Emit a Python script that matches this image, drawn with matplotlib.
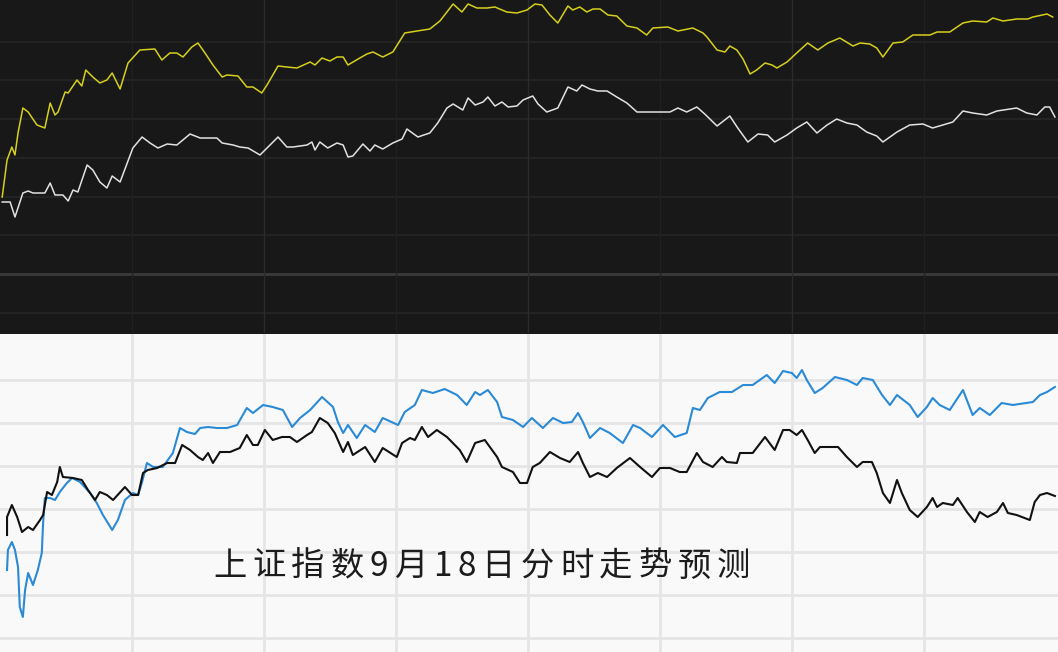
import matplotlib
matplotlib.use('Agg')
import matplotlib.pyplot as plt
import numpy as np

plt.rcParams['font.family'] = ['Noto Sans CJK SC', 'DejaVu Sans']

# 上半部分: 实际分时走势 (分钟, 相对昨收的点数)
yellow_t = [0.5, 1.6, 2.7, 3.4, 4.1, 5.2, 6.4, 8.4, 10.2, 11.4, 12.5, 13.2, 14.8, 15.5, 17.5, 18.6, 19.5,
            21.1, 22.7, 24.3, 25.5, 27.3, 29.1, 31.8, 35.2, 36.8, 38.6, 40.2, 41.6, 43.6, 45.0, 46.6,
            48.4, 50.5, 51.6, 54.1, 56.1, 57.5, 59.5, 60.7, 63.2, 65.2, 67.5, 70.5, 71.6, 73.2, 75.0,
            76.6, 78.0, 79.1, 81.8, 83.4, 84.8, 87.0, 89.3, 92.0, 94.8, 97.7, 100.0, 103.0, 105.0,
            106.4, 108.4, 110.7, 112.5, 115.2, 117.5, 119.8, 121.6, 123.2, 125.0, 126.8, 129.1,
            130.2, 131.8, 133.4, 134.8, 136.4, 138.2, 140.2, 142.5, 144.8, 147.0, 148.4, 151.8,
            154.1, 157.5, 159.8, 160.7, 163.0, 164.8, 165.9, 167.5, 168.9, 170.5, 172.0, 173.9,
            175.5, 176.6, 178.9, 181.1, 183.6, 185.9, 188.2, 190.9, 193.9, 195.5, 197.7, 199.3,
            200.7, 203.0, 205.2, 207.5, 211.4, 213.0, 215.9, 218.9, 221.1, 224.3, 225.7, 228.0,
            231.1, 233.6, 234.8, 238.0, 239.3]
yellow_v = [77, 114, 127, 119, 141, 166, 162, 149, 146, 171, 159, 162, 182, 181, 194, 188, 204,
            197, 191, 194, 201, 185, 211, 224, 225, 214, 221, 221, 217, 227, 231, 221,
            209, 197, 199, 198, 187, 187, 181, 189, 208, 207, 206, 212, 209, 216, 213,
            217, 217, 209, 216, 220, 222, 217, 222, 241, 243, 245, 253, 270, 262,
            270, 266, 266, 267, 262, 261, 264, 270, 269, 259, 251, 268,
            264, 267, 262, 265, 265, 259, 258, 248, 246, 239, 246, 247,
            243, 246, 241, 237, 224, 222, 228, 224, 215, 200, 204, 211,
            209, 206, 212, 221, 231, 224, 231, 236, 228, 231, 230, 226,
            217, 231, 232, 239, 239, 242, 242, 251, 253, 252, 256, 253,
            255, 255, 257, 260, 257]

white_t = [0.5, 2.3, 3.4, 5.2, 6.4, 7.5, 10.2, 11.4, 12.5, 14.3, 15.5, 16.6, 17.7, 19.8, 21.1, 22.7,
           24.3, 25.5, 27.3, 30.2, 32.3, 34.1, 35.9, 38.0, 40.2, 43.2, 45.5, 49.3, 50.5, 53.0, 54.5,
           56.4, 59.1, 60.7, 63.2, 65.2, 66.6, 69.8, 70.9, 71.6, 72.7, 74.5, 76.6, 78.0, 79.1, 80.2,
           82.5, 84.1, 85.2, 87.0, 89.3, 91.4, 92.5, 95.0, 97.7, 99.5, 101.6, 103.0, 105.2, 106.4,
           108.0, 109.8, 110.9, 112.5, 114.1, 115.5, 117.5, 118.9, 121.1, 122.3, 124.3, 126.8,
           129.1, 131.1, 132.3, 134.1, 135.9, 138.0, 140.2, 142.5, 144.8, 147.0, 150.0, 152.3,
           154.1, 156.1, 158.4, 160.2, 163.0, 165.9, 167.7, 170.0, 172.3, 174.5, 176.1, 178.9,
           181.1, 183.4, 185.7, 188.0, 190.2, 192.5, 194.8, 197.0, 199.3, 200.7, 203.9, 206.8,
           209.8, 212.0, 214.3, 216.6, 218.9, 221.1, 224.3, 226.6, 231.1, 233.4, 235.7, 237.5,
           238.6, 239.8]
white_v = [72, 72, 57, 81, 83, 81, 81, 91, 79, 79, 73, 84, 82, 109, 104, 92,
           86, 98, 92, 126, 137, 131, 126, 130, 129, 140, 136, 136, 131, 129, 127,
           126, 119, 126, 137, 127, 127, 129, 132, 124, 132, 126, 131, 129, 117, 118,
           130, 123, 129, 125, 131, 135, 145, 137, 141, 151, 166, 170, 164, 176,
           169, 172, 177, 168, 172, 167, 168, 174, 178, 170, 162, 166,
           187, 183, 189, 185, 183, 183, 177, 171, 162, 162, 162, 162,
           166, 162, 167, 160, 148, 158, 146, 132, 140, 139, 132, 139,
           146, 152, 141, 149, 155, 151, 149, 142, 138, 132, 142, 149,
           150, 146, 149, 152, 163, 161, 159, 163, 166, 161, 159, 167,
           167, 157]

# 下半部分: 预测走势
blue_t = [1.6, 1.8, 2.7, 3.4, 4.1, 4.5, 5.2, 5.7, 6.4, 7.5, 8.6, 9.5, 9.8, 10.2, 11.4, 12.5, 13.6,
          15.2, 16.4, 18.2, 20.5, 22.0, 23.4, 25.5, 26.8, 28.4, 30.2, 31.4, 32.3, 33.4, 34.8, 37.0,
          39.3, 40.9, 42.5, 44.3, 45.5, 47.3, 49.3, 51.6, 53.9, 56.1, 57.5, 59.8, 62.0, 64.3, 66.4,
          68.2, 70.5, 73.2, 75.7, 76.8, 78.0, 79.1, 81.1, 83.0, 85.2, 87.0, 90.5, 92.0, 94.3, 95.9,
          98.4, 101.1, 103.9, 106.1, 108.0, 109.1, 110.9, 113.0, 114.1, 116.6, 118.9, 120.9, 123.4,
          125.7, 128.0, 130.0, 131.4, 132.5, 134.1, 136.4, 138.6, 141.6, 143.9, 145.5, 148.2,
          150.7, 153.4, 156.1, 157.5, 159.1, 160.9, 163.6, 166.4, 168.9, 171.1, 174.3, 176.1,
          178.0, 180.0, 181.1, 182.3, 183.4, 185.2, 187.0, 189.8, 192.5, 194.8, 196.1, 198.4,
          200.5, 202.3, 203.9, 206.8, 208.6, 210.7, 212.0, 213.6, 215.9, 218.9, 221.1, 222.7,
          225.0, 227.7, 230.2, 234.8, 236.4, 238.0, 239.8]
blue_v = [-61, -41, -33, -41, -58, -98, -108, -81, -64, -76, -61, -44, -14, 11, 11, 9, 17,
          26, 31, 27, 16, 6, -6, -21, -11, 9, 16, 14, 27, 46, 42, 42,
          56, 81, 77, 75, 81, 82, 81, 81, 84, 101, 96, 104, 102, 99, 82,
          91, 99, 112, 102, 87, 76, 84, 71, 84, 77, 91, 84, 97, 104, 119,
          116, 120, 114, 104, 117, 114, 119, 107, 92, 89, 82, 91, 81,
          91, 86, 87, 96, 87, 71, 81, 76, 66, 84, 81, 72,
          84, 72, 76, 101, 99, 111, 117, 117, 124, 124, 134, 126,
          138, 136, 131, 139, 129, 116, 121, 132, 129, 124, 131, 129,
          114, 104, 114, 104, 92, 102, 111, 104, 99, 119, 94, 101,
          94, 106, 104, 107, 114, 117, 122]

black_t = [1.6, 1.6, 2.7, 3.9, 5.0, 6.4, 7.5, 9.1, 9.8, 10.7, 11.8, 13.0, 13.6, 14.3, 16.6, 18.6,
           20.0, 21.6, 22.7, 24.3, 25.7, 28.4, 30.0, 31.4, 32.5, 33.6, 35.7, 38.0, 39.8, 41.4, 43.2,
           45.0, 46.1, 47.3, 48.4, 50.0, 52.3, 54.5, 56.1, 57.5, 58.6, 60.2, 62.0, 64.1, 65.9, 67.5,
           69.8, 70.9, 72.7, 74.5, 76.1, 78.0, 79.1, 80.2, 83.0, 85.2, 87.0, 90.2, 91.4, 93.2, 94.3,
           95.9, 97.3, 99.3, 101.6, 104.5, 106.1, 108.0, 110.2, 113.0, 114.1, 116.6, 118.2, 119.8,
           121.1, 122.7, 125.0, 127.3, 129.5, 131.4, 132.5, 134.1, 135.9, 138.0, 140.2, 143.2,
           145.5, 148.2, 150.0, 152.3, 154.5, 156.1, 158.4, 159.8, 162.0, 164.1, 165.2, 167.5,
           168.2, 171.1, 173.9, 176.1, 178.0, 179.5, 181.1, 182.3, 183.6, 185.2, 186.4, 190.5,
           192.5, 194.8, 196.1, 198.2, 199.3, 200.7, 202.3, 203.9, 205.0, 206.8, 208.6, 210.7,
           212.0, 213.0, 214.3, 216.6, 217.7, 219.8, 221.6, 222.7, 224.5, 226.6, 228.0, 229.1,
           231.1, 234.1, 235.2, 236.4, 238.0, 239.8]
black_v = [-26, -8, 4, -8, -23, -18, -21, -11, -6, 17, 14, 27, 42, 32, 31, 29,
           19, 9, 17, 14, 9, 22, 14, 14, 36, 39, 41, 46, 46, 64, 59,
           52, 49, 56, 46, 57, 57, 61, 74, 64, 64, 79, 69, 72, 72, 67,
           74, 77, 91, 86, 76, 57, 67, 54, 62, 47, 61, 52, 66, 71, 69,
           82, 72, 79, 72, 59, 47, 66, 69, 52, 42, 37, 26, 26,
           42, 46, 57, 51, 47, 57, 46, 32, 36, 32, 41, 51,
           42, 32, 41, 41, 37, 37, 56, 47, 42, 52, 47, 46,
           56, 56, 72, 59, 79, 79, 74, 79, 69, 56, 62, 62,
           52, 42, 47, 47, 36, 16, 6, 29, 16, -1, -8, 2,
           11, 2, 6, 4, 11, -3, -13, -3, -8, -3, 6, -4,
           -6, -11, 7, 14, 16, 13]

title_text = '上证指数9月18日分时走势预测'
vlines = [30, 60, 90, 120, 150, 180, 210]

fig = plt.figure(figsize=(10.58, 6.52), dpi=100, facecolor='#1b1b1b')

# 上图 (深色)
ax1 = fig.add_axes([0, 319 / 652, 1, 333 / 652])
ax1.set_facecolor('#181818')
ax1.set_xlim(0, 240.5)
ax1.set_ylim(-59, 274)
for k in range(-1, 7):
    if k == 0:
        ax1.axhline(0, color='#3a3a3a', linewidth=2.0, zorder=1)
    else:
        ax1.axhline(k * 38.75, color='#262626', linewidth=1.2, zorder=1)
for i, v in enumerate(vlines):
    ax1.axvline(v, color='#2b2b2b' if i % 2 == 1 else '#202020', linewidth=1.0, zorder=1)
ax1.plot(yellow_t, yellow_v, color='#d6cf1c', linewidth=1.1, zorder=3)
ax1.plot(white_t, white_v, color='#e2e2e2', linewidth=1.1, zorder=3)
ax1.set_xticks([])
ax1.set_yticks([])
for s in ax1.spines.values():
    s.set_visible(False)

# 下图 (浅色)
ax2 = fig.add_axes([0, 0, 1, 318 / 652])
ax2.set_facecolor('#f9f9f9')
ax2.set_xlim(0, 240.5)
ax2.set_ylim(-143, 175)
for k in range(-3, 4):
    ax2.axhline(k * 43, color='#e5e5e5', linewidth=2.0, zorder=1)
for v in vlines:
    ax2.axvline(v, color='#e5e5e5', linewidth=2.0, zorder=1)
ax2.plot(blue_t, blue_v, color='#2b8ad6', linewidth=1.5, zorder=3)
ax2.plot(black_t, black_v, color='#111111', linewidth=1.5, zorder=3)
ax2.set_xticks([])
ax2.set_yticks([])
for s in ax2.spines.values():
    s.set_visible(False)

# 标题文字: 原图字距较宽, 逐字排开
renderer = fig.canvas.get_renderer()
left_px, right_px, ypos = 213, 750, 0.27
chars = []
widths = []
for ch in title_text:
    t = ax2.text(0, ypos, ch, transform=ax2.transAxes, ha='left', va='center',
                 fontsize=24, color='#1c1c1c', zorder=4)
    chars.append(t)
    widths.append(t.get_window_extent(renderer).width)
gap = (right_px - left_px - sum(widths)) / (len(chars) - 1)
x = left_px
fig_w = fig.get_figwidth() * fig.dpi
for t, w in zip(chars, widths):
    t.set_x(x / fig_w)
    x += w + gap

fig.savefig('out.png', dpi=100, facecolor=fig.get_facecolor())
